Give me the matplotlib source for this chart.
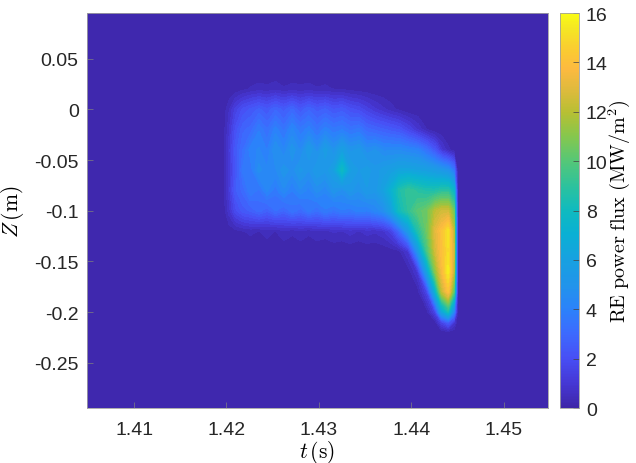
import numpy as np
import matplotlib
matplotlib.use("Agg")
import matplotlib.pyplot as plt
from matplotlib.colors import LinearSegmentedColormap, Normalize
from matplotlib.cm import ScalarMappable

# time samples (s) and vertical positions (m) of the flux map
t_s = [1.4196, 1.4203, 1.4210, 1.4218, 1.4226, 1.4235, 1.4244, 1.4253,
       1.4262, 1.4271, 1.4280, 1.4289, 1.4298, 1.4307, 1.4316, 1.4325,
       1.4334, 1.4343, 1.4352, 1.4361, 1.4370, 1.4378, 1.4387, 1.4397,
       1.4407, 1.4417, 1.4426, 1.4433, 1.4440, 1.4446, 1.4450]
z_m = [0.04, 0.02, 0.00, -0.02, -0.04, -0.06, -0.08, -0.10,
       -0.12, -0.14, -0.16, -0.18, -0.20, -0.21, -0.22, -0.24]

# RE power flux (MW/m^2), one list per time sample, top to bottom in Z
flux_by_t = [
    [0, 0, 0, 0, 0, 0, 0, 0, 0, 0, 0, 0, 0, 0, 0, 0],
    [0, 0, 0.6, 0.9, 1.1, 1.0, 1.1, 0.8, 0.1, 0, 0, 0, 0, 0, 0, 0],
    [0, 0.05, 1.4, 2.0, 2.4, 2.2, 2.5, 1.8, 0.2, 0, 0, 0, 0, 0, 0, 0],
    [0, 0.2, 2.0, 2.8, 3.2, 3.6, 3.0, 2.4, 0.3, 0, 0, 0, 0, 0, 0, 0],
    [0, 0.35, 2.3, 3.0, 4.0, 3.6, 3.8, 2.6, 0.4, 0, 0, 0, 0, 0, 0, 0],
    [0, 0.45, 2.6, 3.8, 4.2, 4.6, 3.4, 3.0, 0.3, 0, 0, 0, 0, 0, 0, 0],
    [0, 0.4, 2.3, 3.2, 3.8, 4.2, 4.2, 2.6, 0.5, 0, 0, 0, 0, 0, 0, 0],
    [0, 0.5, 2.8, 4.0, 4.8, 4.4, 3.6, 3.2, 0.3, 0, 0, 0, 0, 0, 0, 0],
    [0, 0.35, 2.4, 3.4, 4.2, 5.0, 4.4, 2.8, 0.6, 0, 0, 0, 0, 0, 0, 0],
    [0, 0.45, 2.9, 4.2, 5.0, 4.6, 3.8, 3.4, 0.4, 0, 0, 0, 0, 0, 0, 0],
    [0, 0.4, 2.3, 3.6, 4.4, 5.2, 4.4, 3.0, 0.6, 0, 0, 0, 0, 0, 0, 0],
    [0, 0.45, 2.8, 4.0, 5.4, 4.8, 4.0, 3.6, 0.4, 0, 0, 0, 0, 0, 0, 0],
    [0, 0.35, 2.4, 3.4, 4.6, 5.4, 4.6, 3.2, 0.6, 0, 0, 0, 0, 0, 0, 0],
    [0, 0.4, 2.6, 4.0, 5.6, 5.2, 4.2, 3.8, 0.5, 0, 0, 0, 0, 0, 0, 0],
    [0, 0.3, 2.2, 3.6, 4.8, 5.8, 5.0, 3.4, 0.7, 0, 0, 0, 0, 0, 0, 0],
    [0, 0.25, 2.4, 3.8, 5.8, 7.8, 4.6, 3.8, 0.6, 0, 0, 0, 0, 0, 0, 0],
    [0, 0.15, 2.0, 3.4, 5.0, 5.8, 5.2, 3.6, 0.8, 0, 0, 0, 0, 0, 0, 0],
    [0, 0.1, 1.8, 3.6, 5.2, 5.4, 4.8, 4.0, 0.6, 0, 0, 0, 0, 0, 0, 0],
    [0, 0.05, 1.4, 3.0, 4.6, 5.6, 5.4, 3.8, 0.8, 0, 0, 0, 0, 0, 0, 0],
    [0, 0, 1.0, 2.8, 4.8, 5.2, 5.2, 4.2, 0.7, 0, 0, 0, 0, 0, 0, 0],
    [0, 0, 0.7, 2.6, 4.4, 5.6, 6.0, 4.6, 0.9, 0.05, 0, 0, 0, 0, 0, 0],
    [0, 0, 0.45, 2.4, 4.4, 5.8, 7.0, 5.8, 1.4, 0.1, 0, 0, 0, 0, 0, 0],
    [0, 0, 0.2, 2.2, 4.4, 6.2, 8.5, 8.0, 3.0, 0.2, 0, 0, 0, 0, 0, 0],
    [0, 0, 0, 1.6, 4.2, 6.2, 9.2, 9.0, 5.5, 1.0, 0.1, 0, 0, 0, 0, 0],
    [0, 0, 0, 0.9, 4.0, 6.0, 8.8, 10.0, 8.5, 5.0, 1.0, 0.1, 0, 0, 0, 0],
    [0, 0, 0, 0.3, 3.2, 5.8, 8.5, 10.5, 10.5, 9.5, 6.0, 1.5, 0.1, 0, 0, 0],
    [0, 0, 0, 0, 2.2, 5.5, 8.5, 12.0, 13.0, 12.5, 11.0, 7.0, 1.5, 0.1, 0, 0],
    [0, 0, 0, 0, 1.0, 5.2, 8.8, 12.5, 14.0, 14.0, 13.5, 12.0, 6.0, 1.5, 0, 0],
    [0, 0, 0, 0, 0.4, 4.8, 8.8, 12.5, 15.2, 15.0, 15.5, 14.0, 8.0, 2.5, 0, 0],
    [0, 0, 0, 0, 0.1, 3.5, 7.5, 10.5, 12.0, 12.5, 12.0, 10.0, 4.0, 1.0, 0, 0],
    [0, 0, 0, 0, 0, 0, 0, 0, 0, 0, 0, 0, 0, 0, 0, 0],
]

cbar_ticks = [0, 2, 4, 6, 8, 10, 12, 14, 16]
x_ticks = [1.41, 1.42, 1.43, 1.44, 1.45]
y_ticks = [0.05, 0, -0.05, -0.1, -0.15, -0.2, -0.25]

# parula-like colormap (MATLAB default)
parula_pts = [
    (0.000, (0.243, 0.150, 0.660)),
    (0.060, (0.272, 0.215, 0.830)),
    (0.125, (0.280, 0.310, 0.960)),
    (0.190, (0.235, 0.420, 0.995)),
    (0.250, (0.170, 0.510, 0.980)),
    (0.310, (0.130, 0.580, 0.920)),
    (0.375, (0.090, 0.630, 0.880)),
    (0.440, (0.040, 0.690, 0.830)),
    (0.500, (0.060, 0.730, 0.750)),
    (0.560, (0.170, 0.760, 0.620)),
    (0.625, (0.330, 0.780, 0.470)),
    (0.690, (0.530, 0.780, 0.300)),
    (0.750, (0.720, 0.750, 0.200)),
    (0.810, (0.880, 0.730, 0.240)),
    (0.860, (0.990, 0.730, 0.250)),
    (0.910, (0.980, 0.800, 0.190)),
    (0.960, (0.960, 0.900, 0.140)),
    (1.000, (0.977, 0.984, 0.081)),
]
parula = LinearSegmentedColormap.from_list("parula", parula_pts, N=256)

plt.rcParams['font.family'] = ['Liberation Sans', 'DejaVu Sans']
plt.rcParams['mathtext.fontset'] = 'cm'

fig = plt.figure(figsize=(6.36, 4.64), dpi=100)
ax = fig.add_axes([0.1368, 0.1185, 0.7248, 0.8513])
cax = fig.add_axes([0.8805, 0.1185, 0.0299, 0.8513])

T, Z = np.meshgrid(t_s, z_m)
F = np.array(flux_by_t).T
norm = Normalize(vmin=0, vmax=16)
levels = np.linspace(0, 16, 51)

# outside the sampled window the flux is zero: same colour as lowest band
ax.set_facecolor(parula(norm(0.5 * (levels[0] + levels[1]))))
cs = ax.contourf(T, Z, F, levels=levels, cmap=parula, norm=norm)
cs.set_edgecolor('face')
cs.set_linewidth(0.3)

ax.set_xlim(1.4049, 1.4548)
ax.set_ylim(-0.2945, 0.095)
ax.set_xticks(x_ticks)
ax.set_xticklabels(['1.41', '1.42', '1.43', '1.44', '1.45'])
ax.set_yticks(y_ticks)
ax.set_yticklabels(['0.05', '0', '-0.05', '-0.1', '-0.15', '-0.2', '-0.25'])
ax.tick_params(direction='in', length=4, width=0.5, color='#808080',
               labelsize=14, labelcolor='#262626')
ax.tick_params(axis='x', pad=9)
ax.tick_params(axis='y', pad=6)
for sp in ax.spines.values():
    sp.set_color('#a0a0a0')
    sp.set_linewidth(0.6)

ax.set_xlabel(r'$t\,(\mathrm{s})$', fontsize=15.5, labelpad=0)
ax.set_ylabel(r'$Z\,(\mathrm{m})$', fontsize=15.5, labelpad=6)

cb = fig.colorbar(ScalarMappable(norm=norm, cmap=parula), cax=cax)
cb.set_ticks(cbar_ticks)
cb.ax.tick_params(direction='in', length=4, width=0.5, color='#404040',
                  labelsize=14, labelcolor='#262626', pad=5)
cb.outline.set_edgecolor('#a0a0a0')
cb.outline.set_linewidth(0.6)
cb.set_label(r'$\mathrm{RE\ power\ flux}\ (\mathrm{MW/m^2})$', fontsize=14.5, labelpad=-1)

fig.savefig('out.png', dpi=100)
